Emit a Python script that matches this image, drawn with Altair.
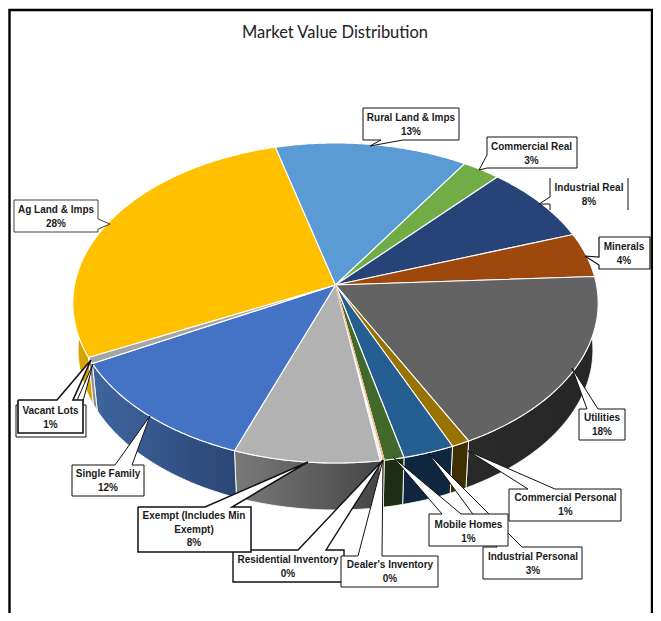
import math
import numpy as np
import pandas as pd
import altair as alt

# clockwise from the Ag Land slice
categories = ["Ag Land & Imps", "Rural Land & Imps", "Commercial Real", "Industrial Real",
              "Minerals", "Utilities", "Commercial Personal", "Industrial Personal",
              "Mobile Homes", "Dealer's Inventory", "Residential Inventory",
              "Exempt (Includes Min Exempt)", "Single Family", "Vacant Lots"]
shares = [28.05, 13.2, 2.6, 7.9, 4.5, 18.25, 1.0, 2.83, 1.1, 0.11, 0.11, 8.05, 11.56, 0.6]
pct_labels = ["28%", "13%", "3%", "8%", "4%", "18%", "1%", "3%", "1%", "0%", "0%", "8%", "12%", "1%"]
top_colors = ["#FFC000", "#5B9BD5", "#70AD47", "#264478", "#9E480E", "#636363", "#997300",
              "#255E91", "#43682B", "#F4B183", "#DDDDDD", "#B2B2B2", "#4472C4", "#A5A5A5"]
edge_colors = ["#FFFFFF"] * 9 + ["#F4B183"] + ["#FFFFFF"] * 4
wall_left = ["#D9A300", "#4A7DAB", "#5A8A39", "#1E3660", "#7E390B", "#2A2A2A", "#3D2E04",
             "#0F2640", "#1E2E12", "#C08050", "#AAAAAA", "#7A7A7A", "#3F659F", "#8C8C8C"]
wall_right = ["#C99700", "#4A7DAB", "#5A8A39", "#1E3660", "#7E390B", "#262626", "#3D2E04",
              "#0F2640", "#1E2E12", "#C08050", "#AAAAAA", "#464646", "#2A4674", "#8C8C8C"]

W, H = 645, 605
X = alt.X("x:Q", axis=None, scale=alt.Scale(domain=[8, 8 + W], nice=False, zero=False))
Y = alt.Y("y:Q", axis=None, scale=alt.Scale(domain=[8, 8 + H], nice=False, zero=False, reverse=True))

# perspective disc
CX, CY, A, B, K, START = 335.5, 285, 261, 158, 0.1125, 244.1
DEPTH, SHRINK = 47, 0.98


def rim(deg, lower=False):
    t = math.radians(deg)
    u, v = math.sin(t), -math.cos(t)
    w = 1 - K * v
    s = SHRINK if lower else 1
    return (CX + s * A * u / w, CY + (DEPTH if lower else 0) + B * v / w)


def poly(points, fill=None, stroke=None, sw=1.0, gradient=None):
    df = pd.DataFrame(points, columns=["x", "y"])
    df["i"] = range(len(df))
    kw = {"strokeWidth": sw, "interpolate": "linear", "strokeJoin": "miter"}
    if gradient:
        kw["fill"] = alt.Gradient(gradient="linear", x1=0, x2=1, y1=0, y2=0,
                                  stops=[alt.GradientStop(color=gradient[0], offset=0),
                                         alt.GradientStop(color=gradient[1], offset=1)])
    elif fill:
        kw["fill"] = fill
    kw["stroke"] = stroke if stroke else "transparent"
    return alt.Chart(df).mark_line(**kw).encode(x=X, y=Y, order="i:Q")


def box(x0, y0, x1, y1, side, a, b, tip):
    if side == "top":
        return [(x0, y0), (a, y0), tip, (b, y0), (x1, y0), (x1, y1), (x0, y1), (x0, y0)]
    if side == "bottom":
        return [(x0, y0), (x1, y0), (x1, y1), (b, y1), tip, (a, y1), (x0, y1), (x0, y0)]
    if side == "left":
        return [(x0, y0), (x1, y0), (x1, y1), (x0, y1), (x0, b), tip, (x0, a), (x0, y0)]
    return [(x0, y0), (x1, y0), (x1, a), tip, (x1, b), (x1, y1), (x0, y1), (x0, y0)]


total = sum(shares)
edges = [START]
for s in shares:
    edges.append(edges[-1] + 360 * s / total)

walls, tops = [], []
for i, c in enumerate(categories):
    n = max(3, int(edges[i + 1] - edges[i]) * 2)
    angs = np.linspace(edges[i], edges[i + 1], n)
    upper = [rim(a) for a in angs]
    lower = [rim(a, True) for a in angs]
    walls.append(poly(upper + lower[::-1] + upper[:1], stroke="#FFFFFF", sw=0.9,
                      gradient=(wall_left[i], wall_right[i])))
    tops.append(poly([(CX, CY)] + upper + [(CX, CY)], fill=top_colors[i], stroke="#FFFFFF", sw=1.1))
# the thin Dealer's Inventory sliver is drawn last so its colour stays visible
sliver = 9
tops.append(poly([(CX, CY), rim(edges[sliver])], None, edge_colors[sliver], 1.1))

GRAY, DARK = "#444444", "#111111"
callouts = [
    poly(box(14, 200, 98, 232, "right", 219, 229, (110, 224)), "#FFFFFF", GRAY, 1),
    poly(box(363, 108, 459, 140, "bottom", 381, 403, (370, 146)), "#FFFFFF", DARK, 1),
    poly(box(487, 137, 577, 168, "left", 155, 168, (479, 170)), "#FFFFFF", DARK, 1),
    poly([(550, 178), (550, 197), (539, 204), (550, 204), (550, 210)], "#FFFFFF", DARK, 1),
    poly([(628, 178), (628, 210)], None, DARK, 1),
    poly(box(599, 237, 650, 269, "left", 257, 265, (585, 256)), "#FFFFFF", DARK, 1.2),
    poly(box(579, 409, 625, 440, "top", 587, 598, (572, 368)), "#FFFFFF", DARK, 1),
    poly(box(16, 405, 86, 437, "top", 75, 82, (93, 364)), "#FFFFFF", DARK, 1),
    poly(box(18, 400, 83, 433, "top", 57, 73, (91, 360)), "#FFFFFF", DARK, 1.6),
    poly(box(72, 465, 144, 496, "top", 115, 132, (150, 416)), "#FFFFFF", DARK, 1),
    poly(box(233, 550, 344, 582, "top", 298, 326, (383, 460)), "#FFFFFF", DARK, 1.4),
    poly(box(138, 507, 251, 552, "top", 205, 232, (308, 462)), "#FFFFFF", DARK, 1.5),
    poly(box(341, 556, 438, 587, "top", 358, 382, (383, 460)), "#FFFFFF", DARK, 1),
    poly(box(483, 547, 582, 579, "top", 497, 522, (428, 453)), "#FFFFFF", DARK, 1),
    poly(box(509, 489, 621, 521, "top", 528, 555, (468, 451)), "#FFFFFF", DARK, 1),
    poly(box(429, 514, 508, 546, "top", 442, 461, (393, 457)), "#FFFFFF", DARK, 1),
]

# (text, centre x, first-line y, line step)
label_lines = [
    (["Ag Land & Imps", pct_labels[0]], 56, 210, 14),
    (["Rural Land & Imps", pct_labels[1]], 411, 118, 14),
    (["Commercial Real", pct_labels[2]], 531.5, 147, 13.5),
    (["Industrial Real", pct_labels[3]], 589, 188, 13.5),
    (["Minerals", pct_labels[4]], 624, 247, 14),
    (["Utilities", pct_labels[5]], 602, 418, 14),
    (["Commercial Personal", pct_labels[6]], 565.5, 498, 14),
    (["Industrial Personal", pct_labels[7]], 533, 557, 13.5),
    (["Mobile Homes", pct_labels[8]], 468.5, 525, 13.5),
    (["Dealer's Inventory", pct_labels[9]], 390, 565, 14),
    (["Residential Inventory", pct_labels[10]], 288, 560, 14),
    (["Exempt (Includes Min", "Exempt)", pct_labels[11]], 194, 516, 13.5),
    (["Single Family", pct_labels[12]], 108, 474, 14),
    (["Vacant Lots", pct_labels[13]], 50.5, 411, 13.5),
]
rows = []
for lines, cx, y0, step in label_lines:
    for j, t in enumerate(lines):
        rows.append({"x": cx, "y": y0 + j * step, "t": t})
labels = alt.Chart(pd.DataFrame(rows)).mark_text(
    font="Liberation Sans", fontWeight="bold", fontSize=10, color="#1A1A1A",
    align="center", baseline="middle").encode(x=X, y=Y, text="t:N")

title = alt.Chart(pd.DataFrame({"x": [335], "y": [33], "t": ["Market Value Distribution"]})).mark_text(
    font="Lato", fontSize=16.5, color="#222222", align="center", baseline="middle"
).encode(x=X, y=Y, text="t:N")

frame = [
    poly([(9.5, 613), (9.5, 10), (652, 10), (652, 613)], None, "#000000", 2.4),
]

chart = alt.layer(*frame, *walls, *tops, *callouts, labels, title).properties(
    width=W, height=H, padding=0, autosize=alt.AutoSizeParams(type="none"),
    background="#FFFFFF",
).configure_view(stroke=None)

chart.save("out.html", embed_options={"renderer": "svg", "actions": False})
